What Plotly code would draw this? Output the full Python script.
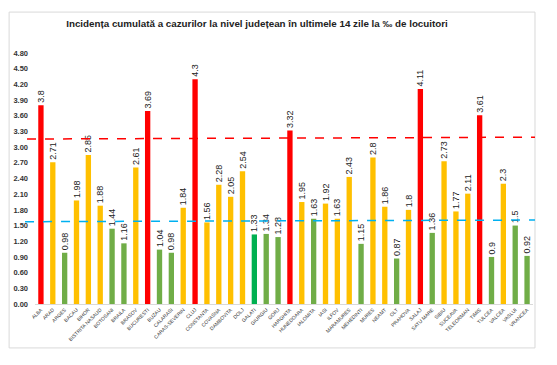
import plotly.graph_objects as go

counties = ["ALBA", "ARAD", "ARGES", "BACAU", "BIHOR", "BISTRITA NASAUD", "BOTOSANI", "BRAILA",
            "BRASOV", "BUCURESTI", "BUZAU", "CALARASI", "CARAS-SEVERIN", "CLUJ", "CONSTANTA",
            "COVASNA", "DAMBOVITA", "DOLJ", "GALATI", "GIURGIU", "GORJ", "HARGHITA", "HUNEDOARA",
            "IALOMITA", "IASI", "ILFOV", "MARAMURES", "MEHEDINTI", "MURES", "NEAMT", "OLT",
            "PRAHOVA", "SALAJ", "SATU MARE", "SIBIU", "SUCEAVA", "TELEORMAN", "TIMIS", "TULCEA",
            "VALCEA", "VASLUI", "VRANCEA"]
incidence = [3.8, 2.71, 0.98, 1.98, 2.85, 1.88, 1.44, 1.16, 2.61, 3.69, 1.04, 0.98, 1.84, 4.3,
             1.56, 2.28, 2.05, 2.54, 1.33, 1.34, 1.28, 3.32, 1.95, 1.63, 1.92, 1.63, 2.43, 1.15,
             2.8, 1.86, 0.87, 1.8, 4.11, 1.36, 2.73, 1.77, 2.11, 3.61, 0.9, 2.3, 1.5, 0.92]
levels = ["r", "y", "g", "y", "y", "y", "g", "g", "y", "r", "g", "g", "y", "r", "y", "y", "y", "y",
          "G", "g", "g", "r", "y", "g", "y", "y", "y", "g", "y", "y", "g", "y", "r", "g", "y", "y",
          "y", "r", "g", "y", "g", "g"]
red_threshold = [3.155, 3.19]
blue_threshold = [1.574, 1.606]
y_ticks = [0, 0.3, 0.6, 0.9, 1.2, 1.5, 1.8, 2.1, 2.4, 2.7, 3.0, 3.3, 3.6, 3.9, 4.2, 4.5, 4.8]

palette = {"r": "#FF0000", "y": "#FFC000", "g": "#70AD47", "G": "#00B050"}
colors = [palette[l] for l in levels]

fig = go.Figure(go.Bar(
    x=counties, y=incidence, marker_color=colors, marker_line_width=0,
    text=["\u00a0" + f"{v:g}" for v in incidence], textposition="outside", textangle=-90,
    constraintext="none",
    textfont=dict(family="Liberation Sans, Arial", size=9, color="#222"),
    cliponaxis=False, hoverinfo="skip",
))

fig.update_layout(
    width=557, height=365,
    margin=dict(l=35, r=24, t=53, b=61, autoexpand=False),
    paper_bgcolor="white", plot_bgcolor="white",
    bargap=0.55, showlegend=False,
    title=dict(text="<b>Incidența cumulată a cazurilor la nivel județean în ultimele 14 zile la ‰ de locuitori</b>",
               x=257 / 557, xanchor="center", y=1 - 24 / 365, yanchor="middle",
               font=dict(family="Liberation Sans, Arial", size=9.8, color="#222")),
    xaxis=dict(tickangle=-45, tickfont=dict(family="Liberation Sans, Arial", size=5, color="#333"),
               showline=True, linecolor="#d9d9d9", linewidth=1, ticks="", showgrid=False,
               automargin=False),
    yaxis=dict(range=[0, 4.8], tickvals=y_ticks, ticktext=[f"<b>{t:.2f}</b>" for t in y_ticks],
               tickfont=dict(family="Liberation Sans, Arial", size=7.5, color="#333"),
               showgrid=False, zeroline=False, showline=False, ticklabelstandoff=6,
               automargin=False),
    shapes=[
        dict(type="rect", xref="paper", yref="paper", x0=-0.052, x1=1.004, y0=-0.175, y1=1.163,
             line=dict(color="#d9d9d9", width=1), layer="below"),
        dict(type="line", xref="paper", yref="y", x0=-0.016, x1=1.004,
             y0=red_threshold[0], y1=red_threshold[1],
             line=dict(color="#FF0000", width=1.5, dash="dash")),
        dict(type="line", xref="paper", yref="y", x0=-0.02, x1=1.004,
             y0=blue_threshold[0], y1=blue_threshold[1],
             line=dict(color="#00B0F0", width=1.5, dash="dash")),
    ],
)

fig.write_html("out.html", config={"displayModeBar": False},
               post_script="document.body.style.margin='0';")
